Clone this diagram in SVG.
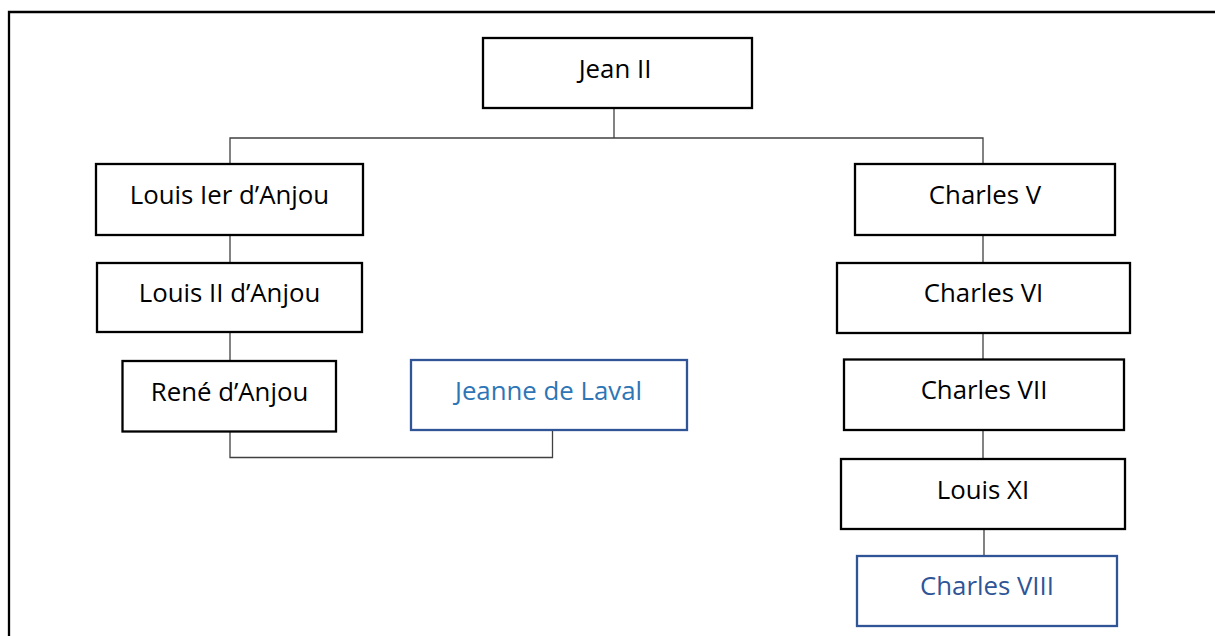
<svg xmlns="http://www.w3.org/2000/svg" width="1215" height="636" viewBox="0 0 1215 636">
<style>
.box{fill:#fff;stroke:#000;stroke-width:2.3}
.blue{fill:#fff;stroke:#2F5597;stroke-width:2.3}
.t{font-family:"Open Sans","Liberation Sans",sans-serif;font-size:25.8px;fill:#000;text-anchor:middle}
.tb{fill:#2E75B6}
.tc{fill:#2F5597}
.c{fill:none;stroke:#404040;stroke-width:1.3}
</style>
<rect width="1215" height="636" fill="#fff"/>
<path d="M9,636 V12 H1215" fill="none" stroke="#000" stroke-width="2.3"/>
<g id="connectors">
<path class="c" d="M614,108 V138"/>
<path class="c" d="M230,164 V138 H983 V164"/>
<path class="c" d="M230,235 V263"/>
<path class="c" d="M230,332 V361"/>
<path class="c" d="M230,431 V457.5 H552.5 V430"/>
<path class="c" d="M983,235 V263"/>
<path class="c" d="M983,333 V359.5"/>
<path class="c" d="M983,430 V459"/>
<path class="c" d="M984,529 V556"/>
</g>
<g id="jean2"><rect class="box" x="483" y="38" width="269" height="70"/><text class="t" x="615" y="77.5">Jean II</text></g>
<g id="louis1"><rect class="box" x="96" y="164" width="267" height="71"/><text class="t" x="229.5" y="203.5">Louis Ier d’Anjou</text></g>
<g id="louis2"><rect class="box" x="97" y="263" width="265" height="69"/><text class="t" x="229.5" y="302">Louis II d’Anjou</text></g>
<g id="rene"><rect class="box" x="122.5" y="361" width="213.5" height="70.5"/><text class="t" x="229.5" y="400.5">René d’Anjou</text></g>
<g id="jeanne"><rect class="blue" x="411" y="360" width="276" height="70"/><text class="t tb" x="548.5" y="399.5">Jeanne de Laval</text></g>
<g id="charles5"><rect class="box" x="855" y="164" width="260" height="71"/><text class="t" x="985" y="203.5">Charles V</text></g>
<g id="charles6"><rect class="box" x="837" y="263" width="293" height="70"/><text class="t" x="983.5" y="302">Charles VI</text></g>
<g id="charles7"><rect class="box" x="844" y="359.5" width="280" height="70.5"/><text class="t" x="984" y="398.5">Charles VII</text></g>
<g id="louis11"><rect class="box" x="841" y="459" width="284" height="70"/><text class="t" x="983" y="498.5">Louis XI</text></g>
<g id="charles8"><rect class="blue" x="857" y="556" width="260" height="70"/><text class="t tc" x="987" y="595">Charles VIII</text></g>
</svg>
